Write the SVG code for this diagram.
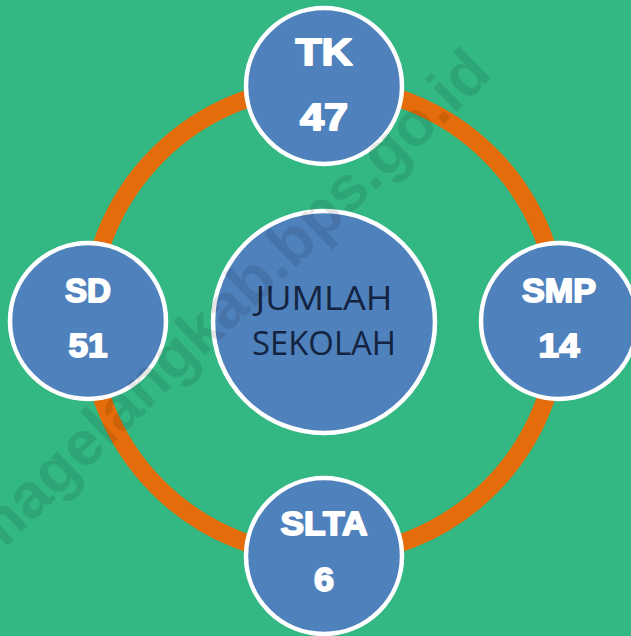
<svg xmlns="http://www.w3.org/2000/svg" width="631" height="636" viewBox="0 0 631 636">
<style>
.node{fill:#4F81BD;stroke:#FFFFFF;stroke-width:4.5}
.lbl{font-family:"Liberation Sans",Arial,sans-serif;font-weight:bold;fill:#FFFFFF;stroke:#FFFFFF;stroke-width:1.8;stroke-linejoin:round;text-anchor:middle}
.ctr{font-family:"Open Sans","Liberation Sans",sans-serif;font-size:32px;fill:#142340;text-anchor:middle}
.wm{font-family:"Liberation Sans",Arial,sans-serif;font-weight:bold;font-size:63px;fill:#000000;fill-opacity:0.1;text-anchor:middle}
</style>
<rect x="0" y="0" width="631" height="636" fill="#33B884"/>
<g id="connectors">
<circle cx="324" cy="321" r="235" fill="none" stroke="#E46C0A" stroke-width="18"/>
</g>
<g id="center">
<circle class="node" cx="324" cy="322" r="111"/>
<text class="ctr" x="324" y="310" textLength="137" lengthAdjust="spacingAndGlyphs">JUMLAH</text>
<text class="ctr" x="324" y="355" textLength="144" lengthAdjust="spacingAndGlyphs">SEKOLAH</text>
</g>
<g id="tk">
<circle class="node" cx="324" cy="86" r="78"/>
<text class="lbl" x="324" y="65" font-size="37" textLength="57" lengthAdjust="spacingAndGlyphs">TK</text>
<text class="lbl" x="324" y="130" font-size="36" textLength="48" lengthAdjust="spacingAndGlyphs">47</text>
</g>
<g id="sd">
<circle class="node" cx="88" cy="321" r="78"/>
<text class="lbl" x="88" y="302" font-size="33" textLength="46" lengthAdjust="spacingAndGlyphs">SD</text>
<text class="lbl" x="88" y="357" font-size="34" textLength="39" lengthAdjust="spacingAndGlyphs">51</text>
</g>
<g id="smp">
<circle class="node" cx="559" cy="321" r="78"/>
<text class="lbl" x="559" y="302" font-size="33" textLength="74" lengthAdjust="spacingAndGlyphs">SMP</text>
<text class="lbl" x="559" y="357" font-size="34" textLength="41" lengthAdjust="spacingAndGlyphs">14</text>
</g>
<g id="slta">
<circle class="node" cx="324" cy="556" r="78"/>
<text class="lbl" x="324" y="535" font-size="33" textLength="87" lengthAdjust="spacingAndGlyphs">SLTA</text>
<text class="lbl" x="324" y="591" font-size="34" textLength="20" lengthAdjust="spacingAndGlyphs">6</text>
</g>
<text class="wm" x="242" y="319" transform="rotate(-44 242 319)">magelangkab.bps.go.id</text>
</svg>
